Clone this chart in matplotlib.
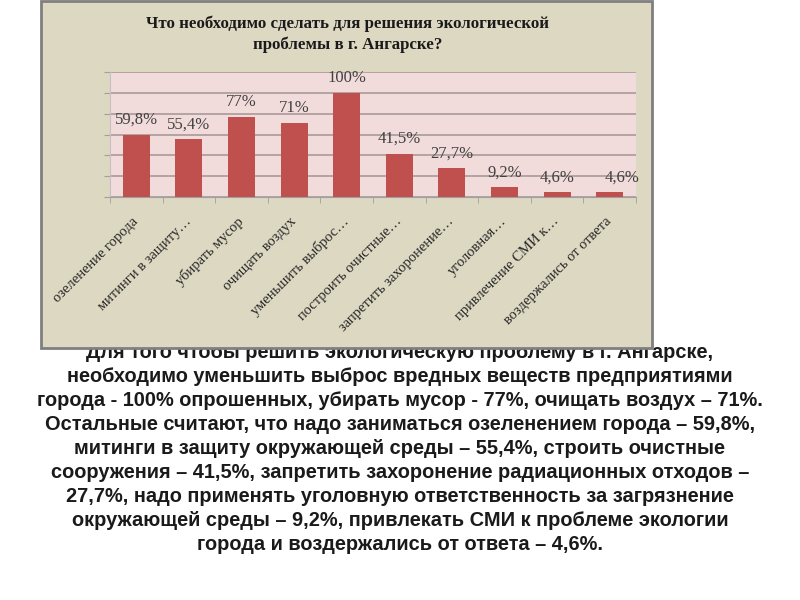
import matplotlib.pyplot as plt
from matplotlib.patches import Rectangle

# data
categories = ["озеленение города", "митинги в защиту…", "убирать мусор",
              "очищать воздух", "уменьшить выброс…", "построить очистные…",
              "запретить захоронение…", "уголовная…", "привлечение СМИ к…",
              "воздержались от ответа"]
values = [59.8, 55.4, 77, 71, 100, 41.5, 27.7, 9.2, 4.6, 4.6]
value_labels = ["59,8%", "55,4%", "77%", "71%", "100%", "41,5%", "27,7%",
                "9,2%", "4,6%", "4,6%"]

title = "Что необходимо сделать для решения экологической\nпроблемы в г. Ангарске?"

paragraph = [
    "Для того чтобы решить экологическую проблему в г. Ангарске,",
    "необходимо уменьшить выброс вредных веществ предприятиями",
    "города - 100% опрошенных, убирать мусор - 77%, очищать воздух – 71%.",
    "Остальные считают, что надо заниматься озеленением города – 59,8%,",
    "митинги в защиту окружающей среды – 55,4%, строить очистные",
    "сооружения – 41,5%, запретить захоронение радиационных отходов –",
    "27,7%, надо применять уголовную ответственность за загрязнение",
    "окружающей среды – 9,2%, привлекать СМИ к проблеме экологии",
    "города и воздержались от ответа – 4,6%.",
]

serif = ["Liberation Serif", "DejaVu Serif"]
sans = ["Liberation Sans", "DejaVu Sans"]

fig = plt.figure(figsize=(8, 6), dpi=100)
fig.patch.set_facecolor("white")

# paragraph under the chart (first line partly hidden by the frame)
for i, line in enumerate(paragraph):
    y = 1 - (353 + i * 23.9) / 600
    fig.text(0.5, y, line, ha="center", va="center", fontsize=14.4,
             fontweight="bold", family=sans, color="#1a1a1a", zorder=1)

# chart frame
frame = Rectangle((41 / 800, 1 - 348 / 600), 611 / 800, 347 / 600,
                  transform=fig.transFigure, facecolor="#dcd8c2",
                  edgecolor="#7f7f7f", linewidth=2, zorder=5)
fig.add_artist(frame)

fig.text(348 / 800, 1 - 34 / 600, title, ha="center", va="center",
         fontsize=12.2, fontweight="bold", family=serif, color="#1a1a1a",
         linespacing=1.4, zorder=6)

ax = fig.add_axes([110 / 800, 1 - 197 / 600, 526 / 800, 125 / 600], zorder=10)
ax.set_facecolor("#f2dcdb")

x = list(range(len(values)))
ax.bar(x, values, width=0.51, color="#c0504d", zorder=3)

for i, (v, lab) in enumerate(zip(values, value_labels)):
    dx = 9 if i == len(values) - 1 else 0  # last label sits a bit to the right
    ax.annotate(lab, (i, v), xytext=(dx, 5), textcoords="offset points",
                ha="center", va="bottom", fontsize=12, family=serif,
                color="#404040", annotation_clip=False)

ax.set_xlim(-0.5, len(values) - 0.5)
ax.set_ylim(0, 120)
ax.set_yticks(range(0, 121, 20))
ax.set_yticklabels([])
ax.yaxis.grid(True, color="#a89a9a", linewidth=1.2)
ax.set_axisbelow(True)

ax.set_xticks(x)
ax.set_xticklabels(categories, rotation=45, ha="right", va="center",
                   rotation_mode="anchor", fontsize=10.5, family=serif,
                   color="#262626")
ax.tick_params(axis="x", length=0, pad=16)
ax.set_xticks([i + 0.5 for i in range(-1, len(values))], minor=True)
ax.tick_params(axis="x", which="minor", length=4, color="#a0a0a0", direction="out")
ax.tick_params(axis="y", length=4, color="#a0a0a0")

for side in ["top", "right"]:
    ax.spines[side].set_visible(False)
ax.spines["left"].set_color("#c8c0c0")
ax.spines["bottom"].set_color("#a0a0a0")

fig.savefig("out.png", dpi=100)
